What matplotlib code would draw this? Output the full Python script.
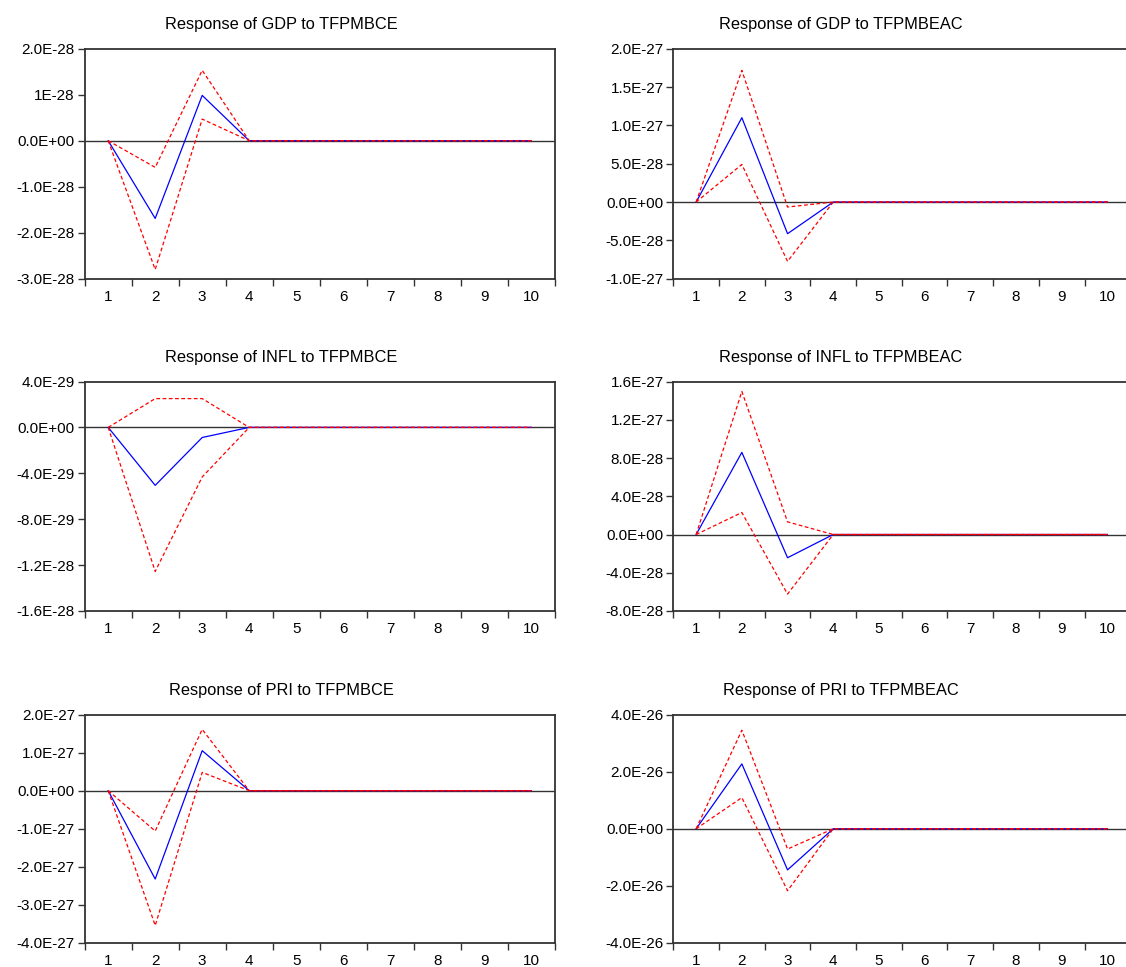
import numpy as np
import matplotlib
matplotlib.use('Agg')
import matplotlib.pyplot as plt

plt.rcParams['font.family'] = ['Liberation Sans', 'DejaVu Sans']

# periods
periods = np.arange(1, 11)

# impulse responses (mean, upper band, lower band)
gdp_tfpmbce = np.array([0, -1.69, 0.985, 0, 0, 0, 0, 0, 0, 0]) * 1e-28
gdp_tfpmbce_hi = np.array([0, -0.58, 1.53, 0, 0, 0, 0, 0, 0, 0]) * 1e-28
gdp_tfpmbce_lo = np.array([0, -2.80, 0.47, 0, 0, 0, 0, 0, 0, 0]) * 1e-28

gdp_tfpmbeac = np.array([0, 1.10, -0.413, 0, 0, 0, 0, 0, 0, 0]) * 1e-27
gdp_tfpmbeac_hi = np.array([0, 1.717, -0.065, 0, 0, 0, 0, 0, 0, 0]) * 1e-27
gdp_tfpmbeac_lo = np.array([0, 0.49, -0.774, 0, 0, 0, 0, 0, 0, 0]) * 1e-27

infl_tfpmbce = np.array([0, -5.05, -0.88, 0, 0, 0, 0, 0, 0, 0]) * 1e-29
infl_tfpmbce_hi = np.array([0, 2.51, 2.51, 0, 0, 0, 0, 0, 0, 0]) * 1e-29
infl_tfpmbce_lo = np.array([0, -12.55, -4.32, 0, 0, 0, 0, 0, 0, 0]) * 1e-29

infl_tfpmbeac = np.array([0, 8.59, -2.43, 0, 0, 0, 0, 0, 0, 0]) * 1e-28
infl_tfpmbeac_hi = np.array([0, 14.96, 1.32, 0, 0, 0, 0, 0, 0, 0]) * 1e-28
infl_tfpmbeac_lo = np.array([0, 2.30, -6.23, 0, 0, 0, 0, 0, 0, 0]) * 1e-28

pri_tfpmbce = np.array([0, -2.32, 1.05, 0, 0, 0, 0, 0, 0, 0]) * 1e-27
pri_tfpmbce_hi = np.array([0, -1.06, 1.61, 0, 0, 0, 0, 0, 0, 0]) * 1e-27
pri_tfpmbce_lo = np.array([0, -3.54, 0.48, 0, 0, 0, 0, 0, 0, 0]) * 1e-27

pri_tfpmbeac = np.array([0, 2.27, -1.44, 0, 0, 0, 0, 0, 0, 0]) * 1e-26
pri_tfpmbeac_hi = np.array([0, 3.45, -0.71, 0, 0, 0, 0, 0, 0, 0]) * 1e-26
pri_tfpmbeac_lo = np.array([0, 1.09, -2.17, 0, 0, 0, 0, 0, 0, 0]) * 1e-26

titles = ['Response of GDP to TFPMBCE', 'Response of GDP to TFPMBEAC',
          'Response of INFL to TFPMBCE', 'Response of INFL to TFPMBEAC',
          'Response of PRI to TFPMBCE', 'Response of PRI to TFPMBEAC']

ytick_labels = [
    ['2.0E-28', '1E-28', '0.0E+00', '-1.0E-28', '-2.0E-28', '-3.0E-28'],
    ['2.0E-27', '1.5E-27', '1.0E-27', '5.0E-28', '0.0E+00', '-5.0E-28', '-1.0E-27'],
    ['4.0E-29', '0.0E+00', '-4.0E-29', '-8.0E-29', '-1.2E-28', '-1.6E-28'],
    ['1.6E-27', '1.2E-27', '8.0E-28', '4.0E-28', '0.0E+00', '-4.0E-28', '-8.0E-28'],
    ['2.0E-27', '1.0E-27', '0.0E+00', '-1.0E-27', '-2.0E-27', '-3.0E-27', '-4.0E-27'],
    ['4.0E-26', '2.0E-26', '0.0E+00', '-2.0E-26', '-4.0E-26'],
]

series = [
    (gdp_tfpmbce, gdp_tfpmbce_hi, gdp_tfpmbce_lo),
    (gdp_tfpmbeac, gdp_tfpmbeac_hi, gdp_tfpmbeac_lo),
    (infl_tfpmbce, infl_tfpmbce_hi, infl_tfpmbce_lo),
    (infl_tfpmbeac, infl_tfpmbeac_hi, infl_tfpmbeac_lo),
    (pri_tfpmbce, pri_tfpmbce_hi, pri_tfpmbce_lo),
    (pri_tfpmbeac, pri_tfpmbeac_hi, pri_tfpmbeac_lo),
]

W, H = 1126, 967
fig = plt.figure(figsize=(W / 100, H / 100), dpi=100)

col_left = [84.7, 673.3]
col_w = [470, 457]     # right column box runs slightly past the page edge
title_x = [281, 841]   # titles are centred on each half of the page, not on the box
rows = [(48.7, 278.7), (381.5, 611), (714.5, 943)]

for i in range(6):
    r, c = divmod(i, 2)
    top, bot = rows[r]
    ax = fig.add_axes([col_left[c] / W, 1 - bot / H, col_w[c] / W, (bot - top) / H])
    mean, hi, lo = series[i]
    labels = ytick_labels[i]
    vals = [float(s) for s in labels]

    ax.axhline(0, color='#333333', lw=1.0, zorder=1)
    ax.plot(periods, mean, color='blue', lw=0.9, zorder=2)
    ax.plot(periods, hi, color='red', lw=0.9, ls=(0, (3, 2)), zorder=3)
    ax.plot(periods, lo, color='red', lw=0.9, ls=(0, (3, 2)), zorder=3)

    ax.set_xlim(0.5, 10.5)
    ax.set_ylim(min(vals), max(vals))
    ax.set_yticks(vals)
    ax.set_yticklabels(labels)

    ax.set_xticks(np.arange(0.5, 11, 1))
    ax.set_xticklabels([])
    ax.set_xticks(periods, minor=True)
    ax.set_xticklabels([str(p) for p in periods], minor=True)
    ax.tick_params(axis='x', which='major', direction='out', length=5, width=1, color='#333333')
    ax.tick_params(axis='x', which='minor', length=0, pad=8, labelsize=11)
    ax.tick_params(axis='y', direction='out', length=5, width=1, color='#333333', labelsize=11, pad=2)

    for s in ax.spines.values():
        s.set_color('#333333')
        s.set_linewidth(1.3)

    ax.set_title(titles[i], fontsize=11.8, pad=14,
                 x=(title_x[c] - col_left[c]) / col_w[c])

fig.savefig('out.png', dpi=100)
